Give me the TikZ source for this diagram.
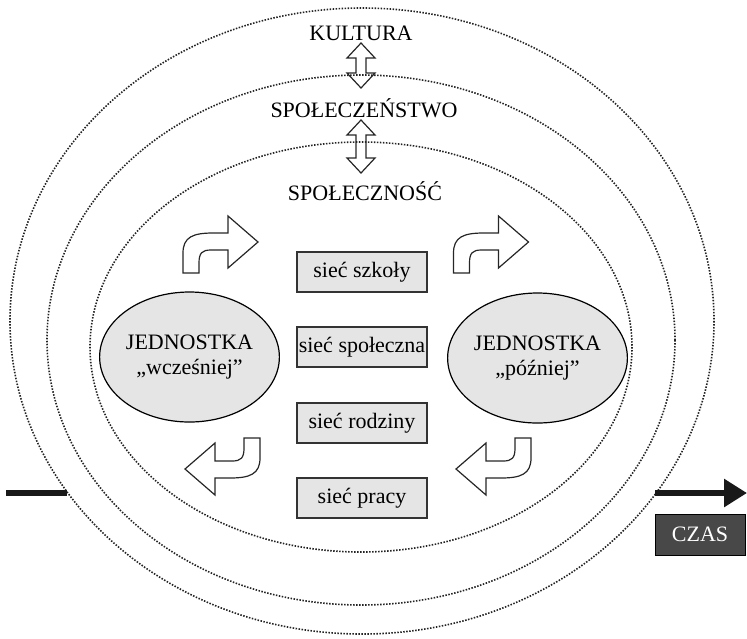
\documentclass[tikz,border=0pt]{standalone}
\usepackage{fontspec}
\setmainfont{Liberation Serif}
\usepackage{xcolor}
\usepackage{tikz}
\usetikzlibrary{arrows.meta,shapes.geometric}
\definecolor{SzaryJasny}{RGB}{229,229,229}
\definecolor{SzaryCiemny}{RGB}{72,72,72}
\definecolor{Kropki}{RGB}{35,35,35}

\tikzset{
  warstwa/.style={line width=0.8pt,dash pattern=on 0.75pt off 0.75pt,Kropki},
  poziom/.style={anchor=base,inner sep=0pt,font=\fontsize{11}{13}\selectfont},
  siec/.style={draw=black!80,fill=SzaryJasny,line width=0.6pt,minimum width=65pt,
    minimum height=20pt,inner sep=0pt,font=\fontsize{11}{13}\selectfont},
  jednostka/.style={ellipse,draw,fill=SzaryJasny,line width=0.6pt,minimum width=77.5pt,
    minimum height=65pt,inner sep=0pt,align=center,font=\fontsize{11}{12.5}\selectfont},
  obrys/.style={draw=black!85,line width=0.6pt},
  czas/.style={line width=3pt,black!90},
  pics/zwrot/.style={code={
    \draw[obrys,fill=white] (0,0) -- (0,-20) .. controls (0,-36) and (10,-40) .. (30,-40)
      -- (45,-40) -- (45,-57) -- (75,-31) -- (45,-5) -- (45,-23) -- (28,-23)
      .. controls (19,-23) and (16,-20) .. (16,-10) -- (16,0) -- cycle;
  }},
  pics/obustronna/.style={code={
    \draw[obrys] (0,0) -- (14,15) -- (5,15) -- (5,{15+#1}) -- (14,{15+#1}) -- (0,{30+#1})
      -- (-14,{15+#1}) -- (-5,{15+#1}) -- (-5,15) -- (-14,15) -- cycle;
  }}
}

\begin{document}
\begin{tikzpicture}[x=0.5pt,y=-0.5pt]
  \useasboundingbox (0,0) rectangle (747,638);

  % warstwy
  \draw[warstwa] (362,321) ellipse [x radius=352,y radius=313];
  \draw[warstwa] (361,340) ellipse [x radius=314,y radius=265];
  \draw[warstwa] (361,347) ellipse [x radius=271,y radius=205];

  \node[poziom] (kultura) at (361,40) {KULTURA};
  \node[poziom] (spoleczenstwo) at (364,117) {SPOŁECZEŃSTWO};
  \node[poziom] (spolecznosc) at (365,200) {SPOŁECZNOŚĆ};

  \pic at (361,43) {obustronna=15};
  \pic at (361,120) {obustronna=23};

  % sieci
  \node[siec] (szkola) at (362,272) {sieć szkoły};
  \node[siec] (spoleczna) at (362,347) {sieć społeczna};
  \node[siec] (rodzina) at (362,423) {sieć rodziny};
  \node[siec] (praca) at (362,498) {sieć pracy};

  \node[jednostka] (wczesniej) at (189.5,357) {JEDNOSTKA\\„wcześniej”};
  \node[jednostka] (pozniej) at (537.5,358) {JEDNOSTKA\\„później”};

  \pic at (183,273) {zwrot};
  \pic at (453.5,273) {zwrot};
  \pic[rotate=180] at (260,438) {zwrot};
  \pic[rotate=180] at (531,438) {zwrot};

  % os czasu
  \coordinate (t1) at (6,493);
  \coordinate (t2) at (67,493);
  \coordinate (t3) at (655,493);
  \coordinate (t4) at (747,493);
  \draw[czas] (t1) -- (t2);
  \draw[czas,-{Triangle[length=11.5pt,width=13.5pt]}] (t3) -- (t4);
  \node[draw=black,fill=SzaryCiemny,text=white,minimum width=45pt,minimum height=20.5pt,
    inner sep=0pt,font=\fontsize{11}{13}\selectfont] (czasbox) at (700,534.5) {CZAS};
\end{tikzpicture}
\end{document}
